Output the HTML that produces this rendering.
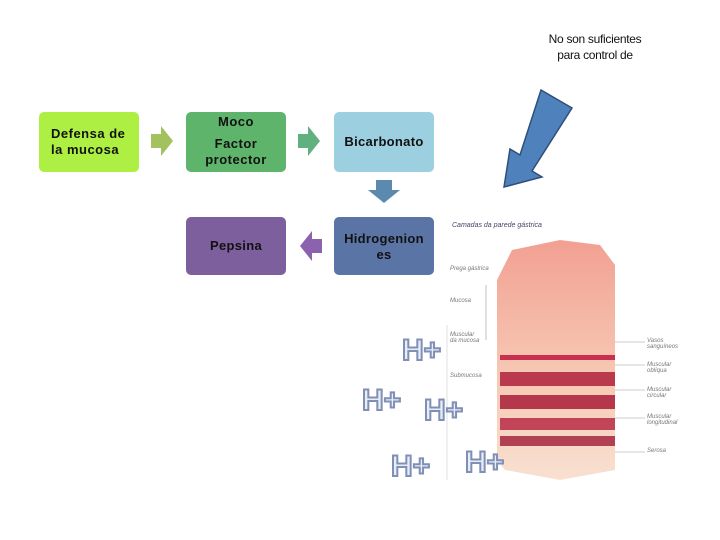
<!DOCTYPE html><html><head><style>
body{margin:0;width:720px;height:540px;background:#fff;position:relative;overflow:hidden;font-family:"Liberation Sans",sans-serif}
.b{position:absolute;width:100px;border-radius:5px;display:flex;align-items:center;justify-content:center;text-align:center;font-size:13px;line-height:16px;color:#111;font-weight:bold}
.h{position:absolute;font:bold 30px "Liberation Sans",sans-serif;color:#e8eef8;-webkit-text-stroke:2px #8090b5;letter-spacing:0px}
.t{position:absolute;font-size:6px;color:#777;font-style:italic}
</style></head><body>
<div style="position:absolute;left:520px;top:31px;width:150px;text-align:center;font-size:12px;line-height:16px;color:#111;letter-spacing:-0.3px">No son suficientes<br>para control de</div>
<div class="b" style="left:39px;top:112px;background:#adf043;justify-content:flex-start;text-align:left;padding-left:12px;width:88px;letter-spacing:0.5px;align-items:flex-start;padding-top:14px;height:46px">Defensa de<br>la mucosa</div>
<div class="b" style="left:186px;top:112px;background:#5fb46b;flex-direction:column;justify-content:flex-start;padding-top:2px;height:58px;letter-spacing:0.5px"><div>Moco</div><div style="margin-top:6px">Factor<br>protector</div></div>
<div class="b" style="left:334px;top:112px;height:60px;background:#9ccfe0;letter-spacing:0.3px">Bicarbonato</div>
<div class="b" style="left:334px;top:217px;background:#5b74a6;align-items:flex-start;padding-top:14px;height:44px;letter-spacing:0.3px">Hidrogenion<br>es</div>
<div class="b" style="left:186px;top:217px;height:58px;background:#7e5f9e;letter-spacing:0.3px">Pepsina</div>
<svg width="720" height="540" style="position:absolute;left:0;top:0">
<polygon points="151,134 161,134 161,126 173,141 161,156 161,148 151,148" fill="#a3c15e"/>
<polygon points="298,134 308,134 308,126 320,141 308,156 308,148 298,148" fill="#60b080"/>
<polygon points="376,180 392,180 392,190 400,190 384,203 368,190 376,190" fill="#5b8ab0"/>
<polygon points="322,239 312,239 312,231 300,246 312,261 312,253 322,253" fill="#8a62ae"/>
<polygon points="541,90 572,108 532,171 542,177 504,187 510,149 520,155" fill="#4f81bd" stroke="#2f4f7a" stroke-width="1.5"/>
<defs><linearGradient id="g" x1="0" y1="0" x2="0" y2="1"><stop offset="0" stop-color="#f2a092"/><stop offset="0.5" stop-color="#f6c4b0"/><stop offset="1" stop-color="#f8e0d0"/></linearGradient></defs>
<polygon points="497,280 512,250 560,240 600,245 615,265 615,470 560,480 505,470 497,460" fill="url(#g)"/>
<rect x="500" y="355" width="115" height="5" fill="#c73050"/>
<rect x="500" y="372" width="115" height="14" fill="#b0203a" opacity=".85"/>
<rect x="500" y="395" width="115" height="14" fill="#a81c38" opacity=".85"/>
<rect x="500" y="418" width="115" height="12" fill="#b82a45" opacity=".85"/>
<rect x="500" y="436" width="115" height="10" fill="#9e1a35" opacity=".8"/>
<line x1="486" y1="285" x2="486" y2="340" stroke="#999" stroke-width=".6"/>
<line x1="447" y1="325" x2="447" y2="480" stroke="#ccc" stroke-width=".6"/>
<g stroke="#999" stroke-width=".6"><line x1="615" y1="342" x2="645" y2="342"/><line x1="615" y1="365" x2="645" y2="365"/><line x1="615" y1="390" x2="645" y2="390"/><line x1="615" y1="418" x2="645" y2="418"/><line x1="615" y1="452" x2="645" y2="452"/></g>
</svg>
<div class="t" style="left:452px;top:222px;color:#446;font-size:7px">Camadas da parede gástrica</div>
<div class="t" style="left:450px;top:266px">Prega gástrica</div>
<div class="t" style="left:450px;top:298px">Mucosa</div>
<div class="t" style="left:450px;top:332px">Muscular<br>da mucosa</div>
<div class="t" style="left:450px;top:373px">Submucosa</div>
<div class="t" style="left:647px;top:338px">Vasos<br>sanguíneos</div>
<div class="t" style="left:647px;top:362px">Muscular<br>oblíqua</div>
<div class="t" style="left:647px;top:387px">Muscular<br>circular</div>
<div class="t" style="left:647px;top:414px">Muscular<br>longitudinal</div>
<div class="t" style="left:647px;top:448px">Serosa</div>
<div class="h" style="left:402px;top:334px">H+</div>
<div class="h" style="left:362px;top:384px">H+</div>
<div class="h" style="left:424px;top:394px">H+</div>
<div class="h" style="left:391px;top:450px">H+</div>
<div class="h" style="left:465px;top:446px">H+</div>
</body></html>
